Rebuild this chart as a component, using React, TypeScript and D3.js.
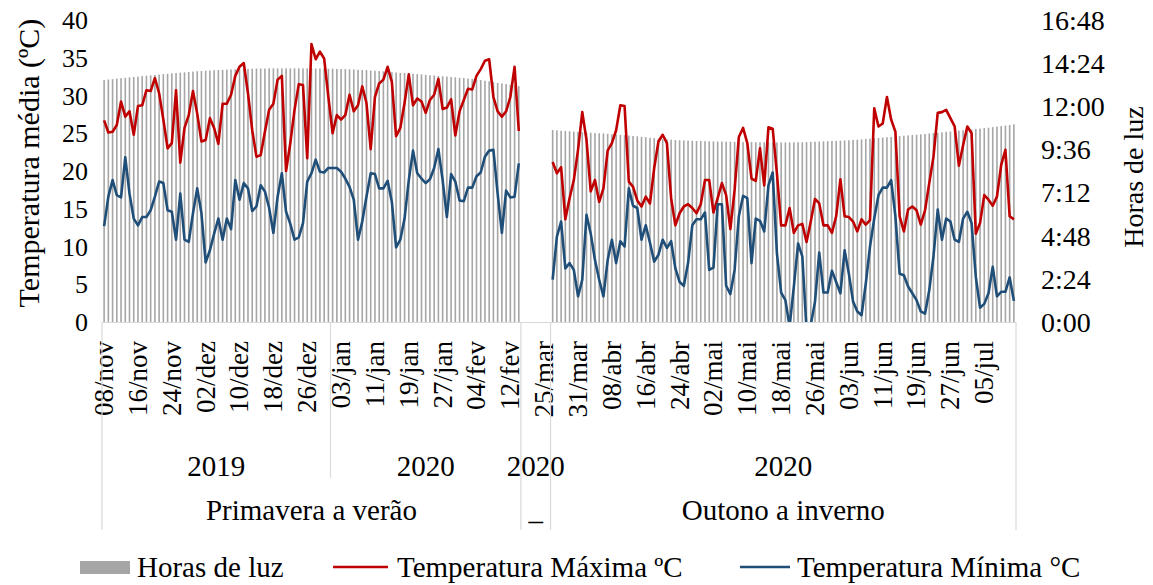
import React from 'react';
import * as d3 from 'd3';

const meses = ['jan', 'fev', 'mar', 'abr', 'mai', 'jun', 'jul', 'ago', 'set', 'out', 'nov', 'dez'];

// periodos do eixo x (dias)
const inicioPrimavera = new Date(2019, 10, 8);
const diasPrimavera = 99;
const inicioIntervalo = new Date(2020, 2, 20);
const diasIntervalo = 7;
const inicioOutono = new Date(2020, 2, 25);
const diasOutono = 110;

const anos = [
  { label: '2019', n: 54 },
  { label: '2020', n: 45 },
  { label: '2020', n: 7 },
  { label: '2020', n: 110 },
];
const estacoes = [
  { label: 'Primavera a verão', n: 99 },
  { label: '_', n: 7 },
  { label: 'Outono a inverno', n: 110 },
];

// horas de luz (h decimais)
const luzPrimavera = [
  13.46, 13.49, 13.51, 13.54, 13.56, 13.58, 13.61, 13.63, 13.65, 13.68,
  13.70, 13.72, 13.74, 13.77, 13.79, 13.81, 13.83, 13.85, 13.87, 13.89,
  13.91, 13.93, 13.95, 13.96, 13.98, 13.99, 14.01, 14.02, 14.03, 14.04,
  14.05, 14.06, 14.07, 14.08, 14.08, 14.09, 14.10, 14.10, 14.10, 14.11,
  14.11, 14.11, 14.11, 14.11, 14.11, 14.11, 14.11, 14.11, 14.11, 14.11,
  14.10, 14.10, 14.10, 14.09, 14.09, 14.08, 14.07, 14.07, 14.06, 14.05,
  14.03, 14.02, 14.01, 13.99, 13.98, 13.96, 13.94, 13.92, 13.90, 13.88,
  13.86, 13.85, 13.83, 13.81, 13.79, 13.77, 13.75, 13.73, 13.71, 13.69,
  13.67, 13.65, 13.63, 13.61, 13.59, 13.57, 13.54, 13.52, 13.49, 13.46,
  13.42, 13.39, 13.35, 13.30, 13.27, 13.24, 13.20, 13.16, 13.12,
];
const luzOutono = [
  10.68, 10.66, 10.64, 10.63, 10.61, 10.59, 10.58, 10.56, 10.54, 10.53,
  10.51, 10.50, 10.49, 10.47, 10.45, 10.43, 10.41, 10.39, 10.37, 10.35,
  10.33, 10.30, 10.28, 10.25, 10.23, 10.20, 10.18, 10.16, 10.14, 10.12,
  10.11, 10.10, 10.09, 10.08, 10.07, 10.07, 10.06, 10.05, 10.05, 10.04,
  10.04, 10.03, 10.03, 10.02, 10.02, 10.01, 10.01, 10.01, 10.00, 10.00,
  10.00, 10.00, 9.99, 9.99, 9.99, 9.99, 9.99, 9.99, 10.00, 10.00,
  10.01, 10.02, 10.03, 10.04, 10.05, 10.06, 10.07, 10.08, 10.09, 10.10,
  10.11, 10.13, 10.14, 10.16, 10.18, 10.20, 10.22, 10.24, 10.26, 10.28,
  10.30, 10.32, 10.34, 10.36, 10.38, 10.40, 10.42, 10.44, 10.46, 10.49,
  10.51, 10.53, 10.55, 10.58, 10.60, 10.62, 10.65, 10.67, 10.69, 10.71,
  10.74, 10.76, 10.79, 10.81, 10.84, 10.87, 10.90, 10.93, 10.96, 11.00,
];

const maxPrimavera = [
  26.7, 25.1, 25.2, 26.1, 29.2, 27.2, 27.9, 24.8, 28.6, 28.7,
  30.7, 30.6, 32.3, 30.3, 26.8, 23.0, 23.7, 30.7, 21.1, 25.7,
  27.4, 30.6, 27.6, 23.9, 24.1, 27.0, 25.7, 23.6, 28.9, 28.9,
  30.1, 32.6, 33.8, 34.3, 30.3, 25.4, 21.9, 22.1, 25.2, 28.1,
  28.9, 32.1, 32.6, 20.0, 23.7, 28.1, 31.5, 31.4, 21.7, 36.8,
  34.8, 35.8, 34.9, 29.8, 25.0, 27.4, 26.8, 27.4, 30.1, 27.9,
  28.7, 31.2, 29.0, 22.9, 29.8, 31.6, 32.1, 33.8, 31.8, 24.6,
  25.7, 29.0, 32.8, 28.7, 29.6, 29.2, 27.7, 29.4, 30.1, 32.2,
  28.2, 28.4, 29.5, 24.7, 27.9, 29.4, 30.9, 30.8, 32.6, 33.5,
  34.6, 34.8, 29.8, 27.9, 27.2, 27.9, 29.8, 33.8, 25.3,
];
const minPrimavera = [
  12.7, 16.6, 18.8, 16.8, 16.5, 21.8, 17.0, 13.7, 12.8, 13.9,
  13.9, 14.8, 16.6, 18.6, 18.4, 14.8, 14.6, 10.9, 17.0, 10.9,
  10.6, 14.4, 17.7, 14.4, 7.9, 9.5, 11.7, 13.7, 10.9, 13.7,
  12.3, 18.8, 16.2, 18.4, 17.7, 14.7, 15.3, 18.1, 17.3, 15.1,
  11.8, 16.6, 19.7, 14.6, 13.0, 10.9, 11.2, 13.1, 18.6, 19.7,
  21.5, 19.9, 19.8, 20.4, 20.4, 20.4, 19.9, 19.0, 17.9, 16.2,
  10.9, 13.3, 16.6, 19.7, 19.6, 17.7, 17.7, 18.7, 15.9, 9.9,
  10.9, 13.7, 18.8, 22.7, 19.7, 19.0, 18.4, 18.9, 20.4, 22.9,
  18.8, 13.9, 19.6, 18.6, 16.1, 16.0, 17.8, 17.8, 19.3, 19.8,
  21.9, 22.7, 22.8, 17.0, 11.8, 17.4, 16.5, 16.6, 21.0,
];
const maxOutono = [
  21.2, 19.7, 20.5, 13.6, 16.4, 18.8, 22.8, 27.8, 24.1, 17.3,
  18.8, 15.9, 17.7, 22.7, 23.7, 25.4, 28.7, 28.6, 18.6, 17.9,
  16.1, 15.3, 16.6, 15.7, 20.4, 23.9, 24.8, 23.7, 16.4, 12.8,
  14.4, 15.3, 15.6, 15.1, 14.4, 15.6, 18.8, 18.8, 14.5, 16.4,
  18.4, 16.8, 12.3, 17.5, 24.5, 25.7, 23.7, 19.0, 18.7, 23.0,
  18.1, 25.8, 25.6, 19.7, 12.8, 12.8, 15.1, 11.8, 12.8, 13.0,
  10.6, 13.3, 16.3, 15.7, 12.8, 12.8, 11.8, 14.0, 18.9, 14.0,
  13.9, 13.3, 12.0, 13.6, 12.9, 13.5, 28.3, 25.9, 26.3, 29.8,
  26.8, 25.2, 14.0, 12.0, 14.9, 15.3, 14.8, 12.9, 14.8, 18.4,
  21.9, 27.7, 27.8, 28.1, 27.0, 25.9, 20.7, 23.4, 25.9, 25.0,
  11.7, 13.1, 16.8, 16.2, 15.4, 16.6, 20.8, 22.8, 14.0, 13.6,
];
const minOutono = [
  5.6, 11.3, 13.3, 7.1, 7.8, 6.9, 3.4, 5.6, 14.2, 11.7,
  8.2, 5.6, 3.4, 8.2, 10.9, 7.8, 10.7, 10.0, 17.7, 15.4,
  15.1, 10.9, 12.8, 10.5, 8.0, 8.9, 10.9, 9.8, 10.7, 7.1,
  5.3, 4.8, 7.8, 12.8, 13.6, 13.6, 14.5, 6.9, 7.2, 15.6,
  15.6, 4.8, 3.7, 6.9, 14.0, 16.7, 16.4, 7.8, 13.7, 13.4,
  12.0, 18.1, 19.8, 9.1, 3.9, 2.9, -0.6, 4.7, 10.4, 8.7,
  -1.0, -0.4, 2.7, 9.2, 3.9, 3.9, 6.8, 5.3, 3.8, 9.5,
  6.4, 2.7, 1.4, 0.9, 5.1, 10.0, 13.7, 16.8, 17.8, 17.8,
  18.8, 14.0, 6.4, 6.2, 4.7, 3.8, 2.9, 1.4, 1.1, 4.2,
  8.7, 14.9, 10.9, 13.7, 13.3, 10.9, 10.6, 13.7, 14.6, 13.1,
  6.0, 1.9, 2.4, 3.8, 7.3, 3.4, 4.0, 4.0, 5.9, 2.8,
];

const ticksTemp = [0, 5, 10, 15, 20, 25, 30, 35, 40];
const ticksHoras = [0, 2.4, 4.8, 7.2, 9.6, 12, 14.4, 16.8];

const W = 1153;
const H = 585;
const font = "'Times New Roman', 'Liberation Serif', serif";
const vermelho = '#C00000';
const azul = '#1F4E79';
const cinza = '#A6A6A6';
const grade = '#D9D9D9';

const fmtDia = (d: Date) => `${String(d.getDate()).padStart(2, '0')}/${meses[d.getMonth()]}`;
const fmtHora = (h: number) => {
  const m = Math.round(h * 60);
  return `${Math.floor(m / 60)}:${String(m % 60).padStart(2, '0')}`;
};

const vazios = (n: number) => Array(n).fill(null);
const rotulos = [
  ...d3.timeDay.range(inicioPrimavera, d3.timeDay.offset(inicioPrimavera, diasPrimavera)),
  ...d3.timeDay.range(inicioIntervalo, d3.timeDay.offset(inicioIntervalo, diasIntervalo)),
  ...d3.timeDay.range(inicioOutono, d3.timeDay.offset(inicioOutono, diasOutono)),
].map(fmtDia);
const luz: (number | null)[] = [...luzPrimavera, ...vazios(diasIntervalo), ...luzOutono];
const tMax: (number | null)[] = [...maxPrimavera, ...vazios(diasIntervalo), ...maxOutono];
const tMin: (number | null)[] = [...minPrimavera, ...vazios(diasIntervalo), ...minOutono];

export default function App() {
  const left = 102, right = 1016, top = 20, bottom = 322;
  const idx = d3.range(rotulos.length);
  const x = d3.scaleBand<number>().domain(idx).range([left, right]).padding(0);
  const bw = x.bandwidth();
  const cx = (i: number) => (x(i) as number) + bw / 2;
  const yT = d3.scaleLinear().domain([0, 40]).range([bottom, top]);
  const yH = d3.scaleLinear().domain([0, 16.8]).range([bottom, top]);

  const linha = d3.line<number | null>()
    .defined((d) => d != null)
    .x((_, i) => cx(i))
    .y((d) => yT(d as number));

  const grupos = (gs: { label: string; n: number }[]) => {
    let s = 0;
    return gs.map((g) => {
      const r = { label: g.label, a: s, b: s + g.n };
      s += g.n;
      return r;
    });
  };
  const gAnos = grupos(anos);
  const gEst = grupos(estacoes);
  const xb = (i: number) => left + i * bw;
  const limitesEst = [0, ...gEst.map((g) => g.b)];
  const limitesAnos = gAnos.map((g) => g.b).filter((b) => !limitesEst.includes(b));

  return (
    <svg width={W} height={H} style={{ position: 'absolute', left: 0, top: 0, fontFamily: font }}>
      <defs>
        <clipPath id="area">
          <rect x={left} y={top - 5} width={right - left} height={bottom - top + 5} />
        </clipPath>
      </defs>
      <rect width={W} height={H} fill="#fff" />

      {/* barras horas de luz */}
      {luz.map((v, i) =>
        v == null ? null : (
          <rect key={i} x={cx(i) - 0.8} y={yH(v)} width={1.6} height={bottom - yH(v)} fill={cinza} />
        )
      )}

      <line x1={left} x2={right} y1={bottom + 0.5} y2={bottom + 0.5} stroke={grade} strokeWidth={1} />

      <g clipPath="url(#area)">
        <path d={linha(tMax) || ''} fill="none" stroke={vermelho} strokeWidth={2.6} strokeLinejoin="round" />
        <path d={linha(tMin) || ''} fill="none" stroke={azul} strokeWidth={2.6} strokeLinejoin="round" />
      </g>

      {/* eixo esquerdo */}
      {ticksTemp.map((t) => (
        <text key={t} x={88} y={yT(t)} dy="0.35em" textAnchor="end" fontSize={26}>{t}</text>
      ))}
      <text transform={`translate(28,163) rotate(-90)`} dy="0.35em" textAnchor="middle" fontSize={30}>
        Temperatura média (ºC)
      </text>

      {/* eixo direito */}
      {ticksHoras.map((t) => (
        <text key={t} x={1041} y={yH(t)} dy="0.35em" textAnchor="start" fontSize={28}>{fmtHora(t)}</text>
      ))}
      <text transform={`translate(1133,177) rotate(-90)`} dy="0.35em" textAnchor="middle" fontSize={28}>
        Horas de luz
      </text>

      {/* eixo x multinivel */}
      {idx.filter((i) => i % 8 === 0).map((i) => (
        <text key={i} transform={`translate(${cx(i)},341) rotate(-90)`} dy="0.33em" textAnchor="end" fontSize={27}>
          {rotulos[i]}
        </text>
      ))}
      {limitesEst.map((b) => (
        <line key={'e' + b} x1={xb(b)} x2={xb(b)} y1={bottom} y2={530} stroke={grade} strokeWidth={1.2} />
      ))}
      {limitesAnos.map((b) => (
        <line key={'a' + b} x1={xb(b)} x2={xb(b)} y1={bottom} y2={478} stroke={grade} strokeWidth={1.2} />
      ))}
      {gAnos.map((g, k) => (
        <text key={k} x={(xb(g.a) + xb(g.b)) / 2} y={476} textAnchor="middle" fontSize={29}>{g.label}</text>
      ))}
      {gEst.map((g, k) => (
        <text key={k} x={(xb(g.a) + xb(g.b)) / 2} y={520} textAnchor="middle" fontSize={29}>{g.label}</text>
      ))}

      {/* legenda */}
      <rect x={80} y={561} width={50} height={13} fill={cinza} />
      <text x={137} y={577} fontSize={29}>Horas de luz</text>
      <line x1={333} x2={388} y1={567} y2={567} stroke={vermelho} strokeWidth={2.5} />
      <text x={397} y={577} fontSize={29}>Temperatura Máxima ºC</text>
      <line x1={740} x2={790} y1={567} y2={567} stroke={azul} strokeWidth={2.5} />
      <text x={797} y={577} fontSize={29}>Temperatura Mínima °C</text>
    </svg>
  );
}
